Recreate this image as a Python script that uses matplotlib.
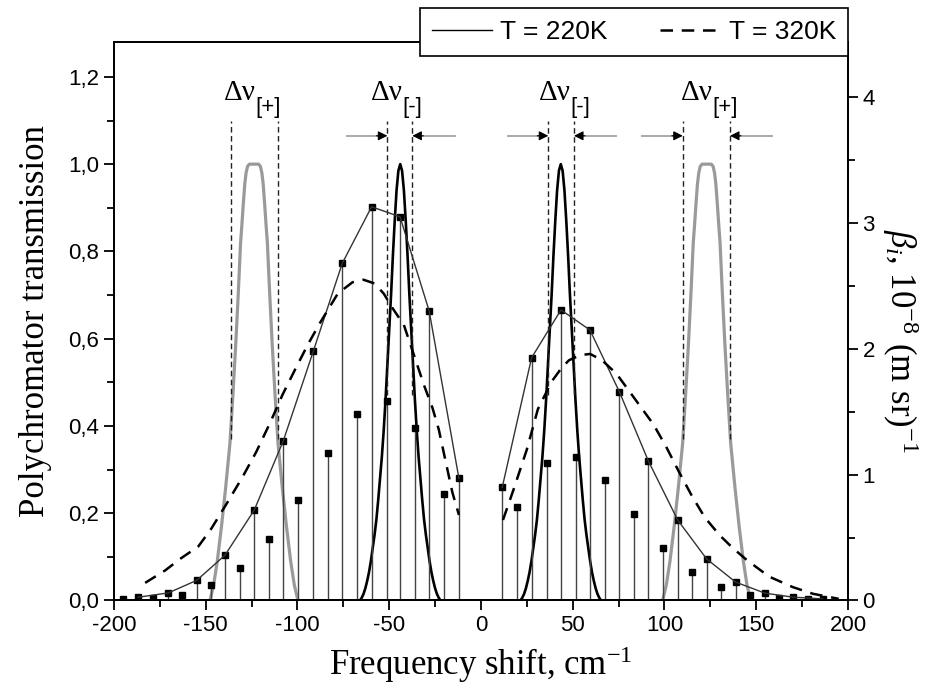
import matplotlib
matplotlib.use("Agg")
import matplotlib.pyplot as plt
import numpy as np
from matplotlib.ticker import MultipleLocator, FuncFormatter
from matplotlib.lines import Line2D

plt.rcParams['font.family'] = ['Liberation Sans', 'DejaVu Sans']
plt.rcParams['axes.unicode_minus'] = False
plt.rcParams['mathtext.fontset'] = 'custom'
plt.rcParams['mathtext.rm'] = 'Liberation Serif'
plt.rcParams['mathtext.it'] = 'Liberation Serif:italic'

# Raman lines, anti-Stokes side (negative shift) and Stokes side
x_neg = [-194.9, -186.8, -178.6, -170.4, -163.1, -154.9, -147.1, -139.5, -131.3, -123.5,
         -115.4, -107.7, -99.6, -91.4, -83.6, -75.6, -67.7, -59.6, -51.4, -44.1,
         -36.0, -28.2, -20.2, -12.0]
b_neg = [0.01, 0.026, 0.02, 0.06, 0.045, 0.16, 0.12, 0.36, 0.26, 0.72,
         0.485, 1.27, 0.80, 1.98, 1.17, 2.68, 1.48, 3.13, 1.585, 3.05,
         1.37, 2.30, 0.85, 0.97]
x_pos = [11.6, 19.5, 27.6, 35.8, 43.6, 51.6, 59.4, 67.6, 75.4, 83.4, 91.2, 99.4,
         107.2, 115.2, 123.0, 130.8, 138.8, 146.6, 154.8, 162.6, 170.2, 178.4, 186.2]
b_pos = [0.90, 0.74, 1.93, 1.095, 2.31, 1.14, 2.15, 0.96, 1.66, 0.69, 1.11, 0.42,
         0.64, 0.23, 0.33, 0.11, 0.146, 0.045, 0.058, 0.018, 0.026, 0.008, 0.013]

# envelope at T = 320K
env_neg_x = [-183, -172, -164, -154, -147, -139, -130, -122.5, -115, -108, -101.5, -94.5,
             -88, -78, -70, -64, -58, -53, -48, -42, -36.5, -31, -26.4, -23, -19.6, -15.6, -12]
env_neg_y = [0.14, 0.24, 0.33, 0.43, 0.57, 0.76, 0.98, 1.18, 1.41, 1.64, 1.83, 2.03,
             2.20, 2.44, 2.53, 2.55, 2.52, 2.44, 2.32, 2.19, 1.95, 1.71, 1.53, 1.36, 1.13, 0.86, 0.68]
env_pos_x = [12, 17.6, 25, 31, 38.5, 44, 48, 54, 59.5, 66, 74, 83, 94, 101, 108, 115,
             122, 130, 137, 145, 157, 170, 181, 195]
env_pos_y = [0.64, 0.875, 1.2, 1.52, 1.74, 1.85, 1.91, 1.95, 1.96, 1.91, 1.80, 1.62, 1.40,
             1.22, 1.02, 0.83, 0.66, 0.52, 0.42, 0.32, 0.19, 0.106, 0.053, 0.013]

# polychromator channels: half profiles
wide_centers = [-123.7, 123.0]
wide_off = [0, 2.5, 3.5, 4.3, 5.0, 5.8, 6.6, 7.3, 8.6, 9.9, 11.5, 13.1, 15.4, 17.7, 20.0, 22.0, 24.0]
wide_val = [1.0, 1.0, 0.995, 0.98, 0.955, 0.91, 0.86, 0.82, 0.70, 0.59, 0.47, 0.36,
            0.26, 0.17, 0.09, 0.035, 0.0]
narrow_centers = [-44.0, 43.5]
narrow_off = [0, 1, 2, 3, 4, 5, 6, 7, 8, 9, 10, 11, 12, 13, 14, 15, 16, 17, 18, 19, 20, 21, 22]
narrow_val = [1.0, 0.985, 0.94, 0.87, 0.79, 0.70, 0.62, 0.54, 0.46, 0.39, 0.33, 0.28,
              0.23, 0.185, 0.15, 0.12, 0.09, 0.065, 0.045, 0.028, 0.015, 0.006, 0.0]

# band edges (dashed) and labels
bands = [(-136.2, -110.4), (-51.0, -37.4), (36.7, 50.7), (110.0, 135.7)]
band_bottom = [0.37, 0.47, 0.47, 0.37]
band_arrows = [False, True, True, True]
band_subs = ['[+]', '[-]', '[-]', '[+]']
label_x = [-122.6, -42.5, 49.0, 126.4]


def mirror(center, off, val):
    o = np.asarray(off)
    v = np.asarray(val)
    return (np.concatenate([center - o[::-1], center + o[1:]]),
            np.concatenate([v[::-1], v[1:]]))


fig = plt.figure(figsize=(9.38, 6.95), dpi=100)
ax = fig.add_axes([0.1215, 0.136, 0.7825, 0.8036])
ax2 = ax.twinx()

for c in wide_centers:
    xx, yy = mirror(c, wide_off, wide_val)
    ax.plot(xx, yy, color='#9a9a9a', lw=2.3, solid_capstyle='round')
for c in narrow_centers:
    xx, yy = mirror(c, narrow_off, narrow_val)
    ax.plot(xx, yy, color='black', lw=1.9)

arrow_y = 1.065
for (a, b), bot, arr in zip(bands, band_bottom, band_arrows):
    ax.vlines([a, b], bot, 1.10, colors='#222222', lw=1.0, linestyles=(0, (4, 2.5)))
    if arr:
        ax.plot([a - 22, a - 5], [arrow_y, arrow_y], color='#aaaaaa', lw=1.4)
        ax.plot([b + 5, b + 23], [arrow_y, arrow_y], color='#aaaaaa', lw=1.4)
        ax.annotate('', xy=(a, arrow_y), xytext=(a - 6, arrow_y),
                    arrowprops=dict(arrowstyle='-|>', color='black', lw=0.8,
                                    mutation_scale=14, shrinkA=0, shrinkB=0))
        ax.annotate('', xy=(b, arrow_y), xytext=(b + 6, arrow_y),
                    arrowprops=dict(arrowstyle='-|>', color='black', lw=0.8,
                                    mutation_scale=14, shrinkA=0, shrinkB=0))
for lx, sub in zip(label_x, band_subs):
    ax.text(lx, 1.148, 'Δν', ha='right', va='baseline', fontsize=21,
            family='Liberation Serif')
    ax.text(lx - 0.5, 1.118, sub, ha='left', va='baseline', fontsize=16,
            family='Liberation Sans')

# Raman spectrum on the right axis
for xs, bs, strong in [(x_neg, b_neg, slice(1, None, 2)), (x_pos, b_pos, slice(0, None, 2))]:
    ax2.vlines(xs, 0, bs, colors='#444444', lw=1.0)
    ax2.plot(xs, bs, 's', color='black', ms=5)
    ax2.plot(xs[strong], bs[strong], color='#333333', lw=1.0)
ls320 = (0, (5, 3.5))
ax2.plot(env_neg_x, env_neg_y, color='black', lw=1.8, linestyle=ls320)
ax2.plot(env_pos_x, env_pos_y, color='black', lw=1.8, linestyle=ls320)

ax.set_xlim(-200, 200)
ax.set_ylim(0, 1.28)
ax2.set_ylim(0, 4.44)

ax.xaxis.set_major_locator(MultipleLocator(50))
ax.xaxis.set_minor_locator(MultipleLocator(25))
ax.yaxis.set_major_locator(MultipleLocator(0.2))
ax.yaxis.set_minor_locator(MultipleLocator(0.1))
ax.yaxis.set_major_formatter(FuncFormatter(lambda v, p: f'{v:.1f}'.replace('.', ',')))
ax2.yaxis.set_major_locator(MultipleLocator(1))
ax2.yaxis.set_minor_locator(MultipleLocator(0.5))

for a_ in (ax, ax2):
    for s in a_.spines.values():
        s.set_linewidth(1.3)
    a_.tick_params(which='both', direction='out', width=1.3, labelsize=16)
    a_.tick_params(which='major', length=7)
    a_.tick_params(which='minor', length=5)
ax.tick_params(top=False, which='both')

ax.set_xlabel(r'Frequency shift, cm$^{-1}$', family='Liberation Serif', fontsize=25, labelpad=6)
ax.set_ylabel('Polychromator transmission', family='Liberation Serif', fontsize=25, labelpad=12)
ax2.set_ylabel(r'$\beta_i$, 10$^{-8}$ (m sr)$^{-1}$', family='Liberation Serif', fontsize=25,
               rotation=270, va='center')
ax2.yaxis.set_label_coords(1.072, 0.465)

handles = [Line2D([], [], color='black', lw=1.0),
           Line2D([], [], color='black', lw=1.8, linestyle=ls320)]
leg = fig.legend(handles, ['T = 220K', 'T = 320K'], loc='upper right', ncol=2,
                 bbox_to_anchor=(848 / 938, 1 - 8 / 695), fontsize=19, frameon=True,
                 fancybox=False, edgecolor='black', framealpha=1, handlelength=2.3,
                 handletextpad=0.3, columnspacing=2.0, borderpad=0.45, borderaxespad=0)
leg.get_frame().set_linewidth(1.2)

fig.savefig('out.png', dpi=100)
